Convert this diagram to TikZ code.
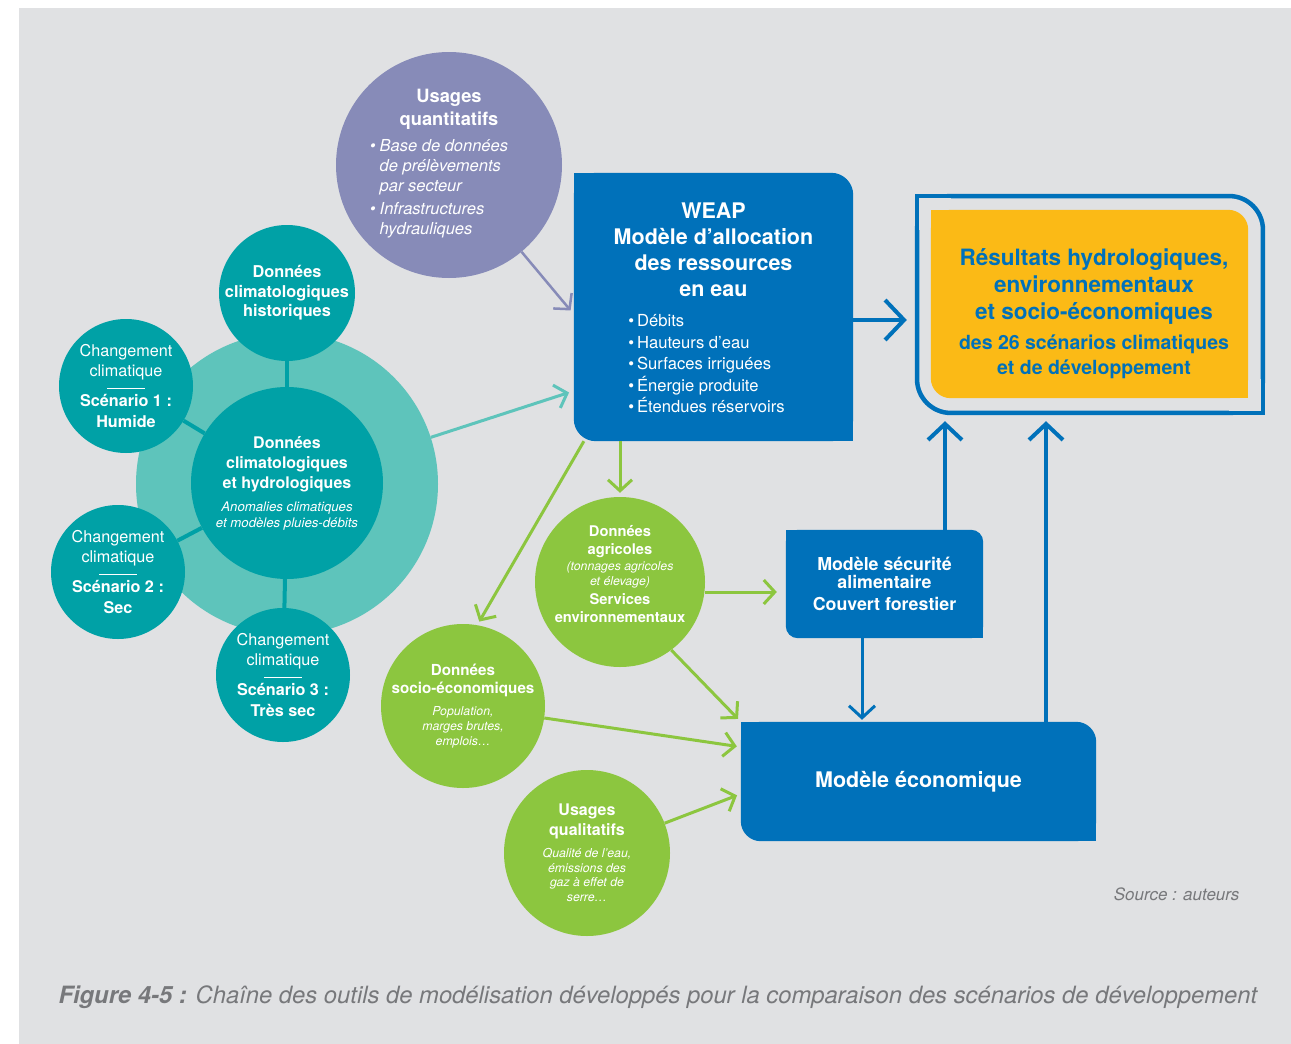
\documentclass[tikz,border=0pt]{standalone}
\usepackage{fontspec}
\setmainfont{TeX Gyre Heros}
\usetikzlibrary{arrows.meta,positioning,backgrounds}

\definecolor{panelGray}{HTML}{E0E1E3}
\definecolor{tealLight}{HTML}{5EC4BB}
\definecolor{tealDark}{HTML}{00A1A6}
\definecolor{lavender}{HTML}{878BB8}
\definecolor{weapBlue}{HTML}{0071BA}
\definecolor{sunYellow}{HTML}{FBBA16}
\definecolor{leafGreen}{HTML}{8CC63F}
\definecolor{noteGray}{HTML}{77787B}
\newcommand{\myFont}[2]{\fontsize{#1}{#2}\selectfont}
\newcommand{\myNote}{\myFont{12.3}{15}\mdseries\itshape}
% filled box, rounded only at top right and bottom left
\newcommand{\myHalfRound}[3]{%
	\fill[#1,rounded corners=#3] (#2.south west) rectangle (#2.north east);
	\fill[#1] (#2.north west) rectangle ([xshift=#3,yshift=-#3]#2.north west);
	\fill[#1] (#2.south east) rectangle ([xshift=-#3,yshift=#3]#2.south east);}

\begin{document}
\begin{tikzpicture}[x=1pt,y=-1pt,
	Edge/.style={line width=3pt,-{Straight Barb[length=11pt,width=24pt]}},
	GreenEdge/.style={Edge,leafGreen,shorten >=4pt},
	BlueEdge/.style={Edge,weapBlue,line width=4pt,-{Straight Barb[length=16pt,width=34pt]},shorten >=6pt},
	Link/.style={tealDark,line width=4pt},
	Ball/.style={circle,inner sep=-30pt,align=center,text=white},
	Scen/.style={Ball,fill=tealDark,minimum size=134pt,font=\myFont{16.2}{20.5}},
	Green/.style={Ball,fill=leafGreen},
	Box/.style={rectangle,inner sep=0pt,align=center,text=white},
]
	\useasboundingbox (0,0) rectangle (1291,1044);

	% climate data cluster
	\node[circle,fill=tealLight,minimum size=302pt] (big) at (287,484) {};
	\node[Ball,fill=tealDark,minimum size=192pt,font=\myFont{16}{20}\bfseries] (cdata) at (287,483)
		{Données\\climatologiques\\et hydrologiques\\[3pt]
		 \myFont{13.2}{16}\mdseries\itshape Anomalies climatiques\\[-4pt]
		 \myFont{13.2}{16}\mdseries\itshape et modèles pluies-débits};
	\node[Ball,fill=tealDark,minimum size=136pt,font=\myFont{16.3}{19.5}\bfseries] (hist) at (287,293)
		{Données\\climatologiques\\historiques};
	\node[Scen] (sc1) at (126,386) {Changement\\climatique\\[-8pt]\rule{38pt}{1.5pt}\\[-3pt]\textbf{Scénario 1 :}\\\textbf{Humide}};
	\node[Scen] (sc2) at (118,572) {Changement\\climatique\\[-8pt]\rule{38pt}{1.5pt}\\[-3pt]\textbf{Scénario 2 :}\\\textbf{Sec}};
	\node[Scen] (sc3) at (283,675) {Changement\\climatique\\[-8pt]\rule{38pt}{1.5pt}\\[-3pt]\textbf{Scénario 3 :}\\\textbf{Très sec}};
	\path[Link] (hist) edge (cdata) (sc1) edge (cdata) (sc2) edge (cdata) (sc3) edge (cdata);

	\node[Ball,fill=lavender,minimum size=226pt,font=\myFont{18.3}{23}\bfseries] (quant) at (449,165)
		{Usages\\quantitatifs\\[3pt]
		 \hspace*{-20pt}\myFont{16.5}{20}\mdseries\itshape\begin{tabular}[t]{@{}l@{\hspace{4pt}}l@{}}
		 \textbullet & Base de données\\ & de prélèvements\\ & par secteur\\[3pt]
		 \textbullet & Infrastructures\\ & hydrauliques\end{tabular}};

	% models
	\node[Box,minimum width=279pt,minimum height=268pt,font=\myFont{21.5}{26}\bfseries] (W) at (713.5,307)
		{\rule{0pt}{24pt}WEAP\\Modèle d’allocation\\des ressources\\en eau\\[4pt]
		 \hspace*{-14pt}\myFont{16.6}{21.5}\mdseries\begin{tabular}[t]{@{}l@{}}
		 \textbullet\hspace{3pt}Débits\\ \textbullet\hspace{3pt}Hauteurs d’eau\\
		 \textbullet\hspace{3pt}Surfaces irriguées\\ \textbullet\hspace{3pt}Énergie produite\\
		 \textbullet\hspace{3pt}Étendues réservoirs\end{tabular}};
	\node[Box,minimum width=350pt,minimum height=221pt] (R) at (1090,304.5) {};
	\node[Box,minimum width=341pt,minimum height=212pt] (Rgap) at (1090,304.5) {};
	\node[Box,minimum width=317pt,minimum height=188pt] (Rin) at (1089.5,304) {};
	\node[Box,text=weapBlue,font=\myFont{22.5}{27}\bfseries] (res) at (1094,314)
		{Résultats hydrologiques,\\environnementaux\\et socio-économiques\\[3pt]
		 \myFont{19.5}{25}des 26 scénarios climatiques\\[-2pt]
		 \myFont{19.5}{25}et de développement};
	\node[Box,minimum width=197pt,minimum height=108pt,font=\myFont{17.8}{18}\bfseries] (S) at (884.5,584)
		{Modèle sécurité\\alimentaire\\[4pt]Couvert forestier};
	\node[Box,minimum width=355pt,minimum height=119pt,font=\myFont{21.5}{25}\bfseries] (E) at (918.5,781.5)
		{Modèle économique};

	% green inputs
	\node[Green,minimum size=170pt,font=\myFont{14.7}{18}\bfseries] (agri) at (620,582)
		{Données\\agricoles\\[-2pt]
		 \myNote (tonnages agricoles\\[-3pt]
		 \myNote et élevage)\\[1pt]
		 Services\\environnementaux\rule[-16pt]{0pt}{16pt}};
	\node[Green,minimum size=164pt,font=\myFont{15.2}{18}\bfseries] (socio) at (463,706)
		{Données\\socio-économiques\\[4pt]
		 \myNote Population,\\[-3pt]\myNote marges brutes,\\[-3pt]\myNote emplois…};
	\node[Green,minimum size=166pt,font=\myFont{16}{20}\bfseries] (qual) at (587,853)
		{Usages\\qualitatifs\\[2pt]
		 \myNote Qualité de l’eau,\\[-5pt]\myNote émissions des\\[-6pt]
		 \myNote gaz à effet de\\[-5pt]\myNote serre…};

	\node[anchor=east,text=noteGray,font=\myFont{17}{20}\itshape] (src) at (1243,894) {Source : auteurs};
	\node[anchor=west,text=noteGray,font=\myFont{23.8}{27}\itshape] (cap) at (55,997)
		{\bfseries Figure 4-5 :\mdseries{} Chaîne des outils de modélisation développés pour la comparaison des scénarios de développement};

	% arrows
	\coordinate (w2r) at ([yshift=-13pt]W.east);
	\coordinate (s2r) at ([xshift=60.5pt]S.north);
	\coordinate (e2r) at ([xshift=127.5pt]E.north);
	\coordinate (s2e) at ([xshift=-22.5pt]S.south);
	\coordinate (a2s) at ([yshift=-10pt]agri.east);

	\draw[Edge,lavender,line width=2.5pt,shorten >=5pt] (quant) -- (W.183);
	\draw[Edge,tealLight,shorten >=5pt] (big) -- (W.211);
	\draw[GreenEdge] (W.south -| agri) -- (agri);
	\draw[GreenEdge] (W.226) -- (socio.80);
	\draw[GreenEdge,shorten >=9pt] (a2s) -- (a2s -| S.west);
	\draw[GreenEdge] (agri.-53) -- (E.north west);
	\draw[GreenEdge] (socio) -- (E.169);
	\draw[GreenEdge] (qual) -- (E.184);

	\draw[BlueEdge,-{Straight Barb[length=19pt,width=40pt]},shorten >=8pt] (w2r) -- (w2r -| R.west);
	\draw[BlueEdge] (s2r) -- (s2r |- R.south);
	\draw[BlueEdge] (e2r) -- (e2r |- R.south);
	\draw[BlueEdge,line width=3pt,-{Straight Barb[length=12pt,width=26pt]},shorten >=2pt] (s2e) -- (s2e |- E.north);

	\begin{pgfonlayer}{background}
		\fill[panelGray] (19,8) rectangle (1291,1044);
		\myHalfRound{weapBlue}{W}{22pt}
		\myHalfRound{weapBlue}{S}{12pt}
		\myHalfRound{weapBlue}{E}{20pt}
		\myHalfRound{weapBlue}{R}{36pt}
		\myHalfRound{panelGray}{Rgap}{32pt}
		\myHalfRound{sunYellow}{Rin}{20pt}
	\end{pgfonlayer}
\end{tikzpicture}
\end{document}
